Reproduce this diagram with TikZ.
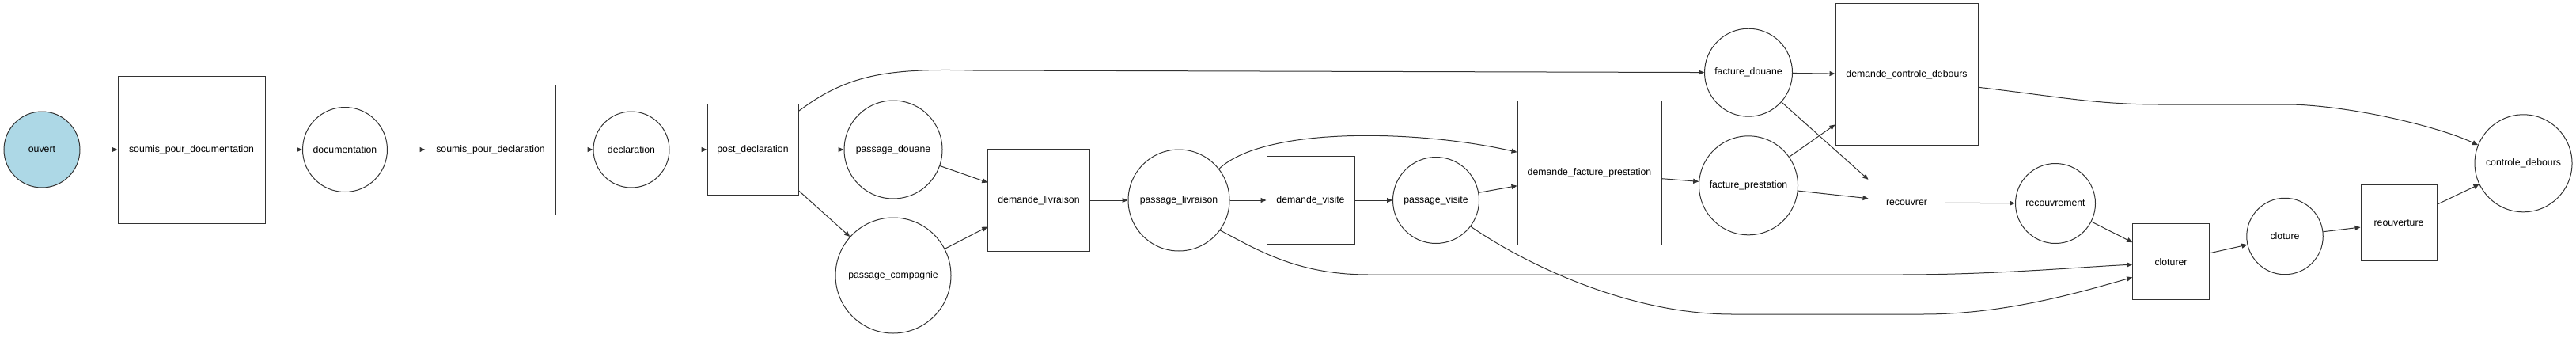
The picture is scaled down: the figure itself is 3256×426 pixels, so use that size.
\documentclass[tikz,border=0pt]{standalone}
\usepackage{fontspec}
\setmainfont{Liberation Sans}
\usetikzlibrary{arrows.meta}
\definecolor{linegray}{HTML}{333333}
\definecolor{ouvertblue}{HTML}{ADD8E6}

\begin{document}
\begin{tikzpicture}[%
      x=1pt, y=-1pt,
      etat/.style={circle, draw=linegray, line width=1pt, inner sep=0pt,
        font=\fontsize{12.3}{14}\selectfont},
      trans/.style={rectangle, draw=linegray, line width=1pt, inner sep=0pt,
        font=\fontsize{12.3}{14}\selectfont},
      edge/.style={draw=linegray, line width=1pt,
        -{Triangle[length=7pt,width=6pt]}},
      ]
      \useasboundingbox (0,0) rectangle (3256,426);

      \node [etat, fill=ouvertblue, minimum size=96pt] (ouvert) at (53,189) {ouvert};
      \node [trans, minimum size=186pt] (spdoc) at (242,189) {soumis\_pour\_documentation};
      \node [etat, minimum size=107pt] (documentation) at (436,189) {documentation};
      \node [trans, minimum size=164pt] (spdecl) at (620,189) {soumis\_pour\_declaration};
      \node [etat, minimum size=96pt] (declaration) at (798,189) {declaration};
      \node [trans, minimum size=115pt] (postdecl) at (951.5,189) {post\_declaration};
      \node [etat, minimum size=124pt] (pdouane) at (1129,189) {passage\_douane};
      \node [etat, minimum size=146pt] (pcompagnie) at (1129,348) {passage\_compagnie};
      \node [trans, minimum size=128.5pt] (dlivraison) at (1313,253) {demande\_livraison};
      \node [etat, minimum size=128pt] (plivraison) at (1490,253) {passage\_livraison};
      \node [trans, minimum size=111pt] (dvisite) at (1656.5,253) {demande\_visite};
      \node [etat, minimum size=109pt] (pvisite) at (1815,253) {passage\_visite};
      \node [trans, minimum size=182pt] (dfacture) at (2009,218.5) {demande\_facture\_prestation};
      \node [etat, minimum size=111pt] (fdouane) at (2210,91.7) {facture\_douane};
      \node [etat, minimum size=125pt] (fprestation) at (2210,234.3) {facture\_prestation};
      \node [trans, minimum width=180pt, minimum height=179pt] (dcontrole) at (2410,94.3) {demande\_controle\_debours};
      \node [trans, minimum size=96pt] (recouvrer) at (2410,256) {recouvrer};
      \node [etat, minimum size=101pt] (recouvrement) at (2598,257) {recouvrement};
      \node [trans, minimum size=96.5pt] (cloturer) at (2744,330.7) {cloturer};
      \node [etat, minimum size=96.5pt] (cloture) at (2888,298.5) {cloture};
      \node [trans, minimum size=96pt] (reouverture) at (3032,281.3) {reouverture};
      \node [etat, minimum size=123pt] (cdebours) at (3189.5,206.3) {controle\_debours};

      \draw [edge] (ouvert) -- (spdoc);
      \draw [edge] (spdoc) -- (documentation);
      \draw [edge] (documentation) -- (spdecl);
      \draw [edge] (spdecl) -- (declaration);
      \draw [edge] (declaration) -- (postdecl);
      \draw [edge] (postdecl) -- (pdouane);
      \draw [edge] (postdecl) -- (pcompagnie);
      \draw [edge] (pdouane) -- (dlivraison);
      \draw [edge] (pcompagnie) -- (dlivraison);
      \draw [edge] (dlivraison) -- (plivraison);
      \draw [edge] (plivraison) -- (dvisite);
      \draw [edge] (dvisite) -- (pvisite);
      \draw [edge] (pvisite) -- (dfacture);
      \draw [edge] (dfacture) -- (fprestation);
      \draw [edge] (fdouane) -- (dcontrole);
      \draw [edge] (fdouane) -- (recouvrer.149);
      \draw [edge] (fprestation) -- (dcontrole);
      \draw [edge] (fprestation) -- (recouvrer);
      \draw [edge] (recouvrer) -- (recouvrement);
      \draw [edge] (recouvrement) -- (cloturer);
      \draw [edge] (cloturer) -- (cloture);
      \draw [edge] (cloture) -- (reouverture);
      \draw [edge] (reouverture) -- (cdebours);

      % long curved edges
      \draw [edge] (postdecl.40) .. controls (1070,95) and (1120,86) .. (1230,89) -- (fdouane);
      \draw [edge] (plivraison.38) .. controls (1600,158) and (1800,165) .. (dfacture.164);
      \draw [edge] (plivraison.-36) .. controls (1590,316) and (1640,347) .. (1730,347)
            -- (2400,347) .. controls (2520,347) and (2620,338) .. (cloturer.184);
      \draw [edge] (pvisite.-37) .. controls (1930,335) and (2060,397) .. (2190,397)
            -- (2430,397) .. controls (2530,397) and (2620,372) .. (cloturer.202);
      \draw [edge] (dcontrole.-10) .. controls (2600,122) and (2650,132) .. (2730,132)
            -- (2890,132) .. controls (2960,132) and (3075,157) .. (cdebours.158);
      \end{tikzpicture}
\end{document}
